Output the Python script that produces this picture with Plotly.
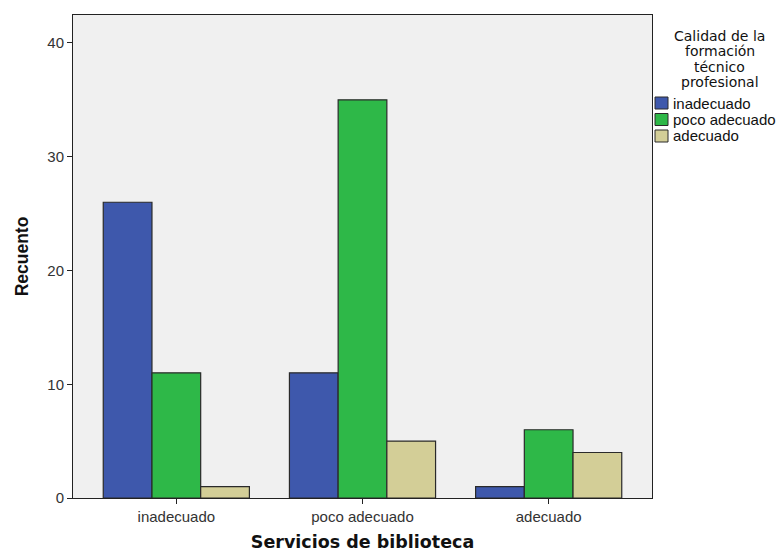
import plotly.graph_objects as go

categories = ["inadecuado", "poco adecuado", "adecuado"]
series_names = ["inadecuado", "poco adecuado", "adecuado"]
values_inadecuado = [26, 11, 1]
values_poco = [11, 35, 6]
values_adecuado = [1, 5, 4]
colors = ["#3e58ac", "#2eb848", "#d3ce97"]
y_ticks = [0, 10, 20, 30, 40]
legend_title_lines = ["Calidad de la", "formación", "técnico", "profesional"]

W, H = 781, 552
ML, MR, MT, MB = 73, 129, 15, 54
PW, PH = W - ML - MR, H - MT - MB


def px_x(px):
    return (px - ML) / PW


def px_y(py):
    return (H - MB - py) / PH


fig = go.Figure()
for name, vals, col in zip(series_names, [values_inadecuado, values_poco, values_adecuado], colors):
    fig.add_trace(go.Bar(
        x=categories, y=vals, name=name,
        marker=dict(color=col, line=dict(color="#2a2a2a", width=1.2)),
    ))

fig.update_layout(
    width=W, height=H,
    margin=dict(l=ML, r=MR, t=MT, b=MB, autoexpand=False),
    paper_bgcolor="white",
    plot_bgcolor="#f0f0f0",
    barmode="group",
    bargap=0.215,
    bargroupgap=0,
    font=dict(family="Liberation Sans, Arial, sans-serif", size=15, color="#222"),
    showlegend=False,
    xaxis=dict(
        range=[-0.555, 2.555],
        automargin=False,
        showline=True, linecolor="#222", linewidth=1, mirror=True,
        ticks="outside", ticklen=5, tickcolor="#222",
        showgrid=False, zeroline=False,
        tickfont=dict(size=15, color="#333"),
        title=dict(text="<b>Servicios de biblioteca</b>",
                   font=dict(family="DejaVu Sans, Verdana, sans-serif", size=17.5, color="#111"),
                   standoff=12),
    ),
    yaxis=dict(
        range=[0, 42.46],
        tickvals=y_ticks,
        automargin=False,
        showline=True, linecolor="#222", linewidth=1, mirror=True,
        ticks="outside", ticklen=5, tickcolor="#222",
        showgrid=False, zeroline=False,
        tickfont=dict(size=15, color="#333"),
        title=dict(text="<b>Recuento</b>", font=dict(size=17.5, color="#111"), standoff=14),
    ),
)

# legend title (line by line)
title_centers = [36, 51, 66.5, 82]
for line, cy in zip(legend_title_lines, title_centers):
    fig.add_annotation(
        text=line, xref="paper", yref="paper", x=px_x(720), y=px_y(cy),
        xanchor="center", yanchor="middle", showarrow=False,
        font=dict(family="DejaVu Sans, Verdana, sans-serif", size=14, color="#111"),
    )

# legend entries
item_centers = [103, 119.5, 136]
for name, col, cy in zip(series_names, colors, item_centers):
    fig.add_shape(
        type="rect", xref="paper", yref="paper",
        x0=px_x(655), x1=px_x(668), y0=px_y(cy + 6), y1=px_y(cy - 6),
        fillcolor=col, line=dict(color="#2a2a2a", width=1),
    )
    fig.add_annotation(
        text=name, xref="paper", yref="paper", x=px_x(671), y=px_y(cy),
        xanchor="left", yanchor="middle", showarrow=False,
        font=dict(size=15, color="#111"),
    )

fig.write_html("out.html", config={"displayModeBar": False},
               post_script="document.body.style.margin='0';")
